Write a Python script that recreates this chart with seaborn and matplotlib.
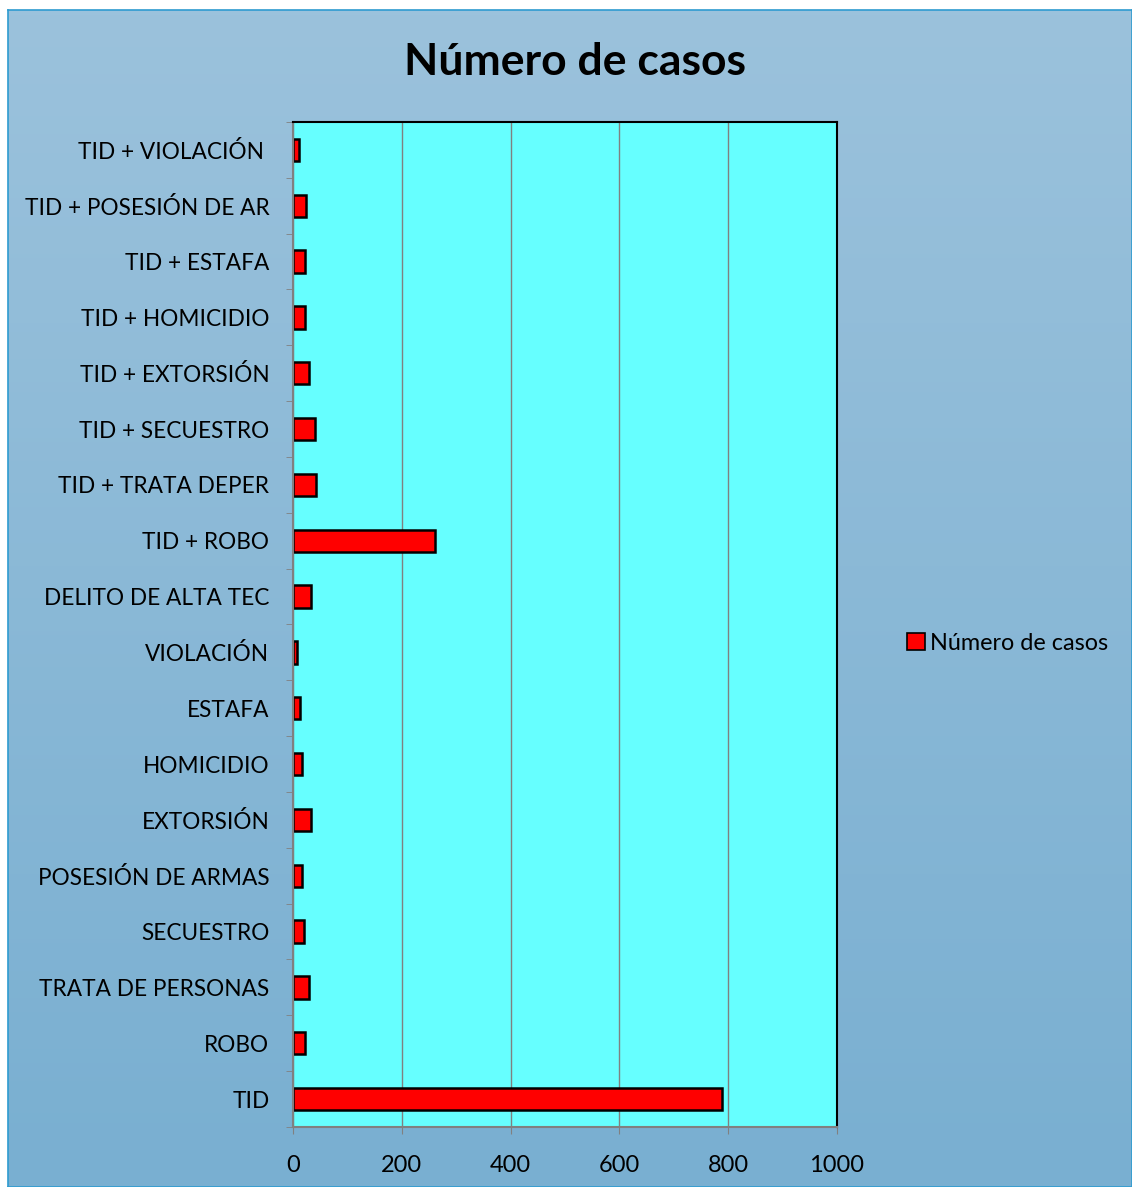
import numpy as np
import pandas as pd
import matplotlib
matplotlib.use("Agg")
import matplotlib.pyplot as plt
import seaborn as sns
from matplotlib.patches import Patch
from matplotlib.ticker import FixedLocator

# categories listed top to bottom as in the chart
categorias = ["TID + VIOLACIÓN ", "TID + POSESIÓN DE AR", "TID + ESTAFA", "TID + HOMICIDIO",
              "TID + EXTORSIÓN", "TID + SECUESTRO", "TID + TRATA DEPER", "TID + ROBO",
              "DELITO DE ALTA TEC", "VIOLACIÓN", "ESTAFA", "HOMICIDIO", "EXTORSIÓN",
              "POSESIÓN DE ARMAS", "SECUESTRO", "TRATA DE PERSONAS", "ROBO", "TID"]
casos = [11, 23, 22, 22, 29, 40, 43, 261, 34, 8, 13, 16, 33, 16, 20, 29, 22, 789]
x_ticks = [0, 200, 400, 600, 800, 1000]

df = pd.DataFrame({"delito": categorias, "casos": casos})

sns.set_style("white")
plt.rcParams["font.family"] = ["Lato", "DejaVu Sans"]
plt.rcParams["text.color"] = "black"
plt.rcParams["xtick.labelcolor"] = "black"
plt.rcParams["ytick.labelcolor"] = "black"

fig = plt.figure(figsize=(11.32, 11.87), dpi=100)

# gradient background with thin border
bg = fig.add_axes([8 / 1132, 0, 1 - 8 / 1132, 1 - 10 / 1187], zorder=0)
grad = np.linspace(0, 1, 256).reshape(-1, 1)
cmap = matplotlib.colors.LinearSegmentedColormap.from_list("bg", ["#9bc2dc", "#79afd1"])
bg.imshow(grad, aspect="auto", cmap=cmap, extent=[0, 1, 0, 1])
bg.set_xticks([])
bg.set_yticks([])
for s in bg.spines.values():
    s.set_color("#2e9bd0")
    s.set_linewidth(1.2)

ax = fig.add_axes([293 / 1132, 1 - 1127 / 1187, 544 / 1132, 1005 / 1187], zorder=1)
sns.barplot(data=df, x="casos", y="delito", orient="h", color="#ff0000",
            saturation=1, width=0.4, edgecolor="black", linewidth=1.8, ax=ax)
ax.set_facecolor("#66ffff")
ax.set_xlim(0, 1000)
ax.set_ylim(len(categorias) - 0.5, -0.5)
ax.set_xticks(x_ticks)
ax.set_xticklabels([str(t) for t in x_ticks], fontsize=17)
ax.tick_params(axis="x", length=5, color="#808080", pad=15, direction="out", bottom=True)
ax.tick_params(axis="y", which="major", length=0, pad=17, labelsize=16.3)
ax.yaxis.set_minor_locator(FixedLocator(np.arange(-0.5, len(categorias), 1)))
ax.tick_params(axis="y", which="minor", length=5, color="#808080", direction="out", left=True)
ax.set_xlabel("")
ax.set_ylabel("")
ax.grid(axis="x", color="#808080", linewidth=1)
ax.set_axisbelow(True)
for side in ["top", "right"]:
    ax.spines[side].set_color("black")
    ax.spines[side].set_linewidth(1.5)
for side in ["left", "bottom"]:
    ax.spines[side].set_color("#808080")
    ax.spines[side].set_linewidth(1.5)

fig.text(575 / 1132, 1 - 62 / 1187, "Número de casos", ha="center", va="center",
         fontsize=32, fontweight="bold", color="black", zorder=2)

handle = Patch(facecolor="#ff0000", edgecolor="black", linewidth=1.2)
fig.legend([handle], ["Número de casos"], loc="center left",
           bbox_to_anchor=(886 / 1132, 1 - 643 / 1187), frameon=False, fontsize=16.8,
           handlelength=0.75, handleheight=0.75, handletextpad=0.25)

fig.savefig("out.png", dpi=100)
